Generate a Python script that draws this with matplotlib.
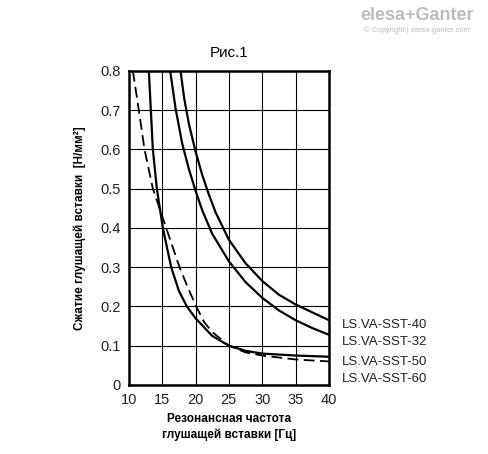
import matplotlib
matplotlib.use('Agg')
import matplotlib.pyplot as plt

plt.rcParams['font.family'] = ['Liberation Sans', 'DejaVu Sans']

# Кривые (частота, Гц / сжатие, Н/мм²)
x_40 = [17.75, 18.3, 19.0, 20.0, 21.0, 22.0, 23.0, 25.0, 27.5, 30.0, 32.5, 35.0, 37.5, 40.0]
y_40 = [0.80, 0.73, 0.665, 0.595, 0.535, 0.485, 0.44, 0.37, 0.31, 0.265, 0.23, 0.205, 0.185, 0.165]
x_32 = [16.2, 17.0, 18.0, 19.0, 20.0, 21.0, 22.5, 25.0, 27.5, 30.0, 32.5, 35.0, 37.5, 40.0]
y_32 = [0.80, 0.705, 0.615, 0.55, 0.495, 0.445, 0.385, 0.315, 0.262, 0.222, 0.19, 0.165, 0.145, 0.128]
x_50 = [13.0, 13.3, 13.6, 14.2, 15.1, 16.35, 17.5, 18.7, 20.0, 22.5, 25.0, 27.5, 30.0, 35.0, 40.0]
y_50 = [0.80, 0.70, 0.60, 0.50, 0.40, 0.30, 0.24, 0.20, 0.17, 0.125, 0.10, 0.087, 0.08, 0.075, 0.072]
x_60 = [10.6, 11.5, 12.35, 13.6, 14.6, 15.6, 16.6, 17.6, 18.8, 20.1, 21.3, 22.5, 25.0, 27.5, 30.0, 35.0, 40.0]
y_60 = [0.80, 0.70, 0.60, 0.50, 0.45, 0.40, 0.35, 0.30, 0.25, 0.20, 0.16, 0.135, 0.10, 0.083, 0.075, 0.065, 0.06]
labels = ['LS.VA-SST-40', 'LS.VA-SST-32', 'LS.VA-SST-50', 'LS.VA-SST-60']

fig = plt.figure(figsize=(4.88, 4.54), dpi=100)
ax = fig.add_axes([0.264, 0.152, 0.41, 0.692])

ax.plot(x_40, y_40, color='black', lw=1.6)
ax.plot(x_32, y_32, color='black', lw=1.6)
ax.plot(x_50, y_50, color='black', lw=1.6)
ax.plot(x_60, y_60, color='black', lw=1.3, dashes=(6, 3))

ax.set_xlim(10, 40)
ax.set_ylim(0, 0.8)
ax.set_xticks(range(10, 41, 5))
ax.set_yticks([i / 10 for i in range(9)])
ax.set_yticklabels(['0'] + [f'{i/10:.1f}' for i in range(1, 9)])
ax.grid(True, color='black', lw=0.8)
ax.tick_params(length=0, labelsize=10.5, colors='#222222', pad=6)
for s in ax.spines.values():
    s.set_linewidth(1.8)

ax.set_title('Рис.1', fontsize=11, pad=10)
ax.set_ylabel('Сжатие глушащей вставки  [Н/мм²]', fontsize=8.5, fontweight='bold', labelpad=10)
fig.text(0.47, 0.035, 'Резонансная частота\nглушащей вставки [Гц]', ha='center',
         fontsize=8.5, fontweight='bold', linespacing=1.4)

for lab, yp in zip(labels, [325, 342, 362, 379]):
    fig.text(342 / 488, 1 - yp / 454, lab, fontsize=9.5, va='center', color='#222222')

fig.text(0.855, 0.955, 'elesa+Ganter', fontsize=13, fontweight='bold', color='#bbbbbb', ha='center')
fig.text(0.855, 0.93, '© Copyright | elesa-ganter.com', fontsize=5.5, color='#bbbbbb', ha='center')

fig.savefig('out.png', dpi=100)
